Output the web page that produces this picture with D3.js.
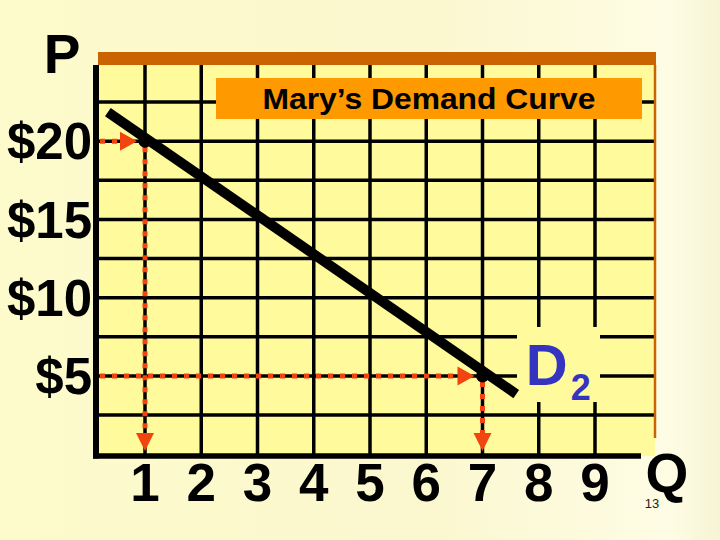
<!DOCTYPE html>
<html>
<head>
<meta charset="utf-8">
<script src="https://cdn.jsdelivr.net/npm/d3@7"></script>
<style>
  html, body { margin: 0; padding: 0; }
  svg { display: block; }
</style>
</head>
<body>
<div id="wrapper"></div>
<script>
// data
const quantities = [1, 2, 3, 4, 5, 6, 7, 8, 9]
const gridPrices = [2.5, 5, 7.5, 10, 12.5, 15, 17.5, 20, 22.5]
const priceTicks = [20, 15, 10, 5]
const priceLabels = ["$20", "$15", "$10", "$5"]
const curveQ = [0.34, 7.6]
const curveP = [21.86, 3.84]
const pointQ = [1, 7]
const pointP = [20, 5]
const title = "Mary\u2019s Demand Curve"

const width = 720
const height = 540
const frame = { left: 96, right: 655, top: 65, bottom: 456 }

const svg = d3.select("#wrapper")
  .append("svg")
  .attr("width", width)
  .attr("height", height)
  .style("font-family", "'Liberation Sans', Arial, sans-serif")

// background
const defs = svg.append("defs")
const grad = defs.append("linearGradient").attr("id", "bg")
grad.append("stop").attr("offset", "0%").attr("stop-color", "#fdfacb")
grad.append("stop").attr("offset", "60%").attr("stop-color", "#fbf8d0")
grad.append("stop").attr("offset", "93%").attr("stop-color", "#fefce4")
grad.append("stop").attr("offset", "100%").attr("stop-color", "#f6f4d4")
svg.append("rect").attr("width", width).attr("height", height).attr("fill", "url(#bg)")

// scales
const xScale = d3.scaleLinear().domain([1, 9]).range([145, 595])
const yScale = d3.scaleLinear().domain([2.5, 22.5]).range([415, 102])

const plotFill = "#fffb9c"
const red = "#f2440e"

// plot area
svg.append("rect")
  .attr("x", frame.left).attr("y", frame.top)
  .attr("width", frame.right - frame.left).attr("height", frame.bottom - frame.top)
  .attr("fill", plotFill)

// grid
svg.append("g").selectAll("line")
  .data(quantities)
  .join("line")
  .attr("x1", d => xScale(d)).attr("x2", d => xScale(d))
  .attr("y1", frame.top).attr("y2", frame.bottom)
  .attr("stroke", "#000").attr("stroke-width", 3.5)

svg.append("g").selectAll("line")
  .data(gridPrices)
  .join("line")
  .attr("x1", frame.left).attr("x2", frame.right)
  .attr("y1", d => yScale(d)).attr("y2", d => yScale(d))
  .attr("stroke", "#000").attr("stroke-width", 3.5)

// top bar and right border
svg.append("rect")
  .attr("x", frame.left + 2).attr("y", 52)
  .attr("width", frame.right - frame.left - 1).attr("height", 13)
  .attr("fill", "#c96400")
svg.append("line")
  .attr("x1", frame.right).attr("x2", frame.right)
  .attr("y1", frame.top).attr("y2", 438)
  .attr("stroke", "#c96400").attr("stroke-width", 2.5)

// title box
svg.append("rect")
  .attr("x", 216).attr("y", 78).attr("width", 426).attr("height", 41)
  .attr("fill", "#ff9900")
svg.append("text")
  .attr("x", 429).attr("y", 109)
  .attr("text-anchor", "middle")
  .attr("font-size", 30).attr("font-weight", "bold")
  .attr("textLength", 333).attr("lengthAdjust", "spacingAndGlyphs")
  .text(title)

// box behind the D2 label
svg.append("rect")
  .attr("x", 517).attr("y", 327).attr("width", 83).attr("height", 75)
  .attr("fill", plotFill)

// axes
svg.append("line")
  .attr("x1", frame.left).attr("x2", frame.left)
  .attr("y1", frame.top).attr("y2", frame.bottom + 2.5)
  .attr("stroke", "#000").attr("stroke-width", 6)
svg.append("line")
  .attr("x1", frame.left - 3).attr("x2", 641)
  .attr("y1", frame.bottom).attr("y2", frame.bottom)
  .attr("stroke", "#000").attr("stroke-width", 5.5)

// dotted guides with arrow heads
const guides = svg.append("g")
pointQ.forEach((q, i) => {
  const px = xScale(q)
  const py = yScale(pointP[i])
  guides.append("line")
    .attr("x1", frame.left + 4).attr("x2", px - 22)
    .attr("y1", py).attr("y2", py)
    .attr("stroke", red).attr("stroke-width", 5)
    .attr("stroke-dasharray", "5,7")
  guides.append("path")
    .attr("d", `M${px - 8},${py} L${px - 25},${py - 9.5} L${px - 25},${py + 9.5} Z`)
    .attr("fill", red)
  guides.append("line")
    .attr("x1", px).attr("x2", px)
    .attr("y1", py + 6).attr("y2", frame.bottom - 22)
    .attr("stroke", red).attr("stroke-width", 5)
    .attr("stroke-dasharray", "5,7")
  guides.append("path")
    .attr("d", `M${px},${frame.bottom - 5} L${px - 9},${frame.bottom - 23} L${px + 9},${frame.bottom - 23} Z`)
    .attr("fill", red)
})

// demand curve
const line = d3.line().x(d => xScale(d[0])).y(d => yScale(d[1]))
svg.append("path")
  .attr("d", line(curveQ.map((q, i) => [q, curveP[i]])))
  .attr("fill", "none").attr("stroke", "#000").attr("stroke-width", 10)

svg.append("g").selectAll("circle")
  .data(pointQ)
  .join("circle")
  .attr("cx", d => xScale(d))
  .attr("cy", (d, i) => yScale(pointP[i]))
  .attr("r", 6.5)
  .attr("fill", "#000")

// D2 label
const dLabel = svg.append("text")
  .attr("x", xScale(8) - 13).attr("y", 385)
  .attr("fill", "#3434c0").attr("font-weight", "bold")
dLabel.append("tspan").attr("font-size", 58).text("D")
dLabel.append("tspan").attr("font-size", 36).attr("dx", 3).attr("dy", 15).text("2")

// tick labels
svg.append("g").selectAll("text")
  .data(quantities)
  .join("text")
  .attr("x", d => xScale(d)).attr("y", 501)
  .attr("text-anchor", "middle")
  .attr("font-size", 53).attr("font-weight", "bold")
  .text(d => d)

svg.append("g").selectAll("text")
  .data(priceTicks)
  .join("text")
  .attr("x", 92).attr("y", d => yScale(d))
  .attr("dy", "0.36em")
  .attr("text-anchor", "end")
  .attr("font-size", 51).attr("font-weight", "bold")
  .text((d, i) => priceLabels[i])

// axis letters
svg.append("text")
  .attr("x", 62).attr("y", 73)
  .attr("text-anchor", "middle")
  .attr("font-size", 55).attr("font-weight", "bold")
  .text("P")
svg.append("text")
  .attr("x", 667).attr("y", 492)
  .attr("text-anchor", "middle")
  .attr("font-size", 55).attr("font-weight", "bold")
  .text("Q")
svg.append("text")
  .attr("x", 652).attr("y", 508)
  .attr("text-anchor", "middle")
  .attr("font-size", 13).attr("fill", "#222")
  .text("13")
</script>
</body>
</html>
